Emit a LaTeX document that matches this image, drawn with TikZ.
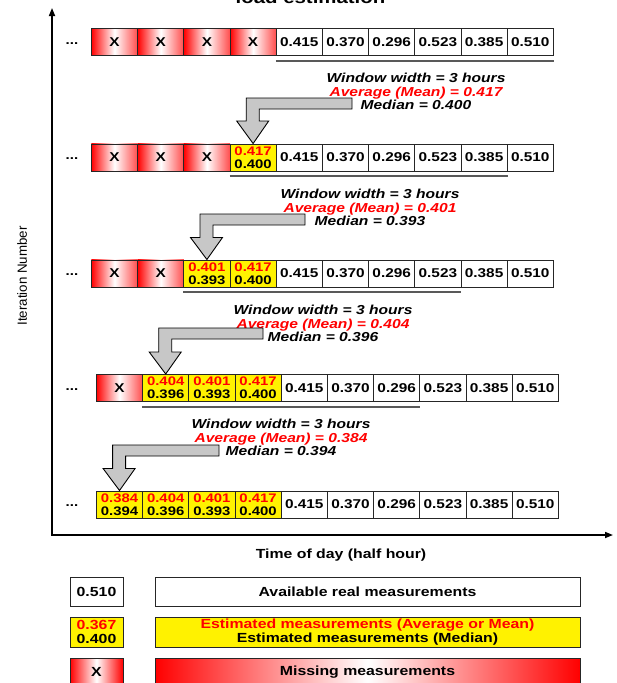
\documentclass[tikz,border=0pt]{standalone}
\usepackage{fontspec}
\setmainfont{Liberation Sans}[FakeStretch=1.2]
\newfontfamily\plainfont{Liberation Sans}
\usetikzlibrary{arrows.meta}

\tikzset{
  cell/.style={draw=black!85, line width=0.8pt, minimum width=46.2pt, minimum height=27pt,
    inner sep=0pt, anchor=north west, align=center,
    font=\fontsize{12.8}{13}\selectfont\bfseries},
  realcell/.style={fill=white},
  estcell/.style={fill=yellow, font=\fontsize{12.4}{13}\selectfont\bfseries},
  misscell/.style={left color=red, right color=red!70, middle color=white},
  dotsnode/.style={anchor=base, font=\fontsize{12.5}{13}\selectfont\bfseries, inner sep=0pt},
  wtext/.style={align=center, inner sep=0pt, font=\fontsize{13}{13.5}\selectfont\bfseries\itshape},
  barrow/.style={draw=black, line width=0.9pt, fill=black!22, line join=miter},
  brk/.style={draw=black!65, line width=2pt},
  axis/.style={draw=black, line width=1.6pt, -{Triangle[width=6pt,length=8pt]}},
  legbox/.style={draw=black!85, line width=0.8pt, inner sep=0pt, align=center,
    font=\fontsize{13.2}{13.8}\selectfont\bfseries},
}

\begin{document}
\begin{tikzpicture}[x=1pt,y=-1pt]
\useasboundingbox (0,0) rectangle (617,683);

% title (cut off at the top, as in the reference)
\node[anchor=base, inner sep=0pt, font=\fontsize{17}{17}\selectfont\bfseries] (title) at (310.5,3) {load estimation};

% axes
\coordinate (origin) at (52,535);
\coordinate (ytop) at (52,8);
\coordinate (xend) at (613,535);
\draw[axis] (origin) -- (ytop);
\draw[axis] ([xshift=-0.8pt]origin) -- (xend);
\node[rotate=90, inner sep=0pt, font=\plainfont\fontsize{13.3}{13}\selectfont] (ylab) at (22,276) {Iteration Number};
\node[inner sep=0pt, font=\fontsize{13.2}{13}\selectfont\bfseries] (xlab) at (341,555) {Time of day (half hour)};

% rows of cells
\foreach \r/\y/\x/\nm in {1/28/91/4, 2/143.5/91/3, 3/259.5/91/2, 4/374/96/1, 5/490.5/96/0}{
  \node[dotsnode] (dots\r) at (72,\y+16) {...};
  \foreach \c/\m/\md/\v in {1/0.384/0.394/x, 2/0.404/0.396/x, 3/0.401/0.393/x, 4/0.417/0.400/x,
      5/-/-/0.415, 6/-/-/0.370, 7/-/-/0.296, 8/-/-/0.523, 9/-/-/0.385, 10/-/-/0.510}{
    \pgfmathsetmacro\cx{\x+(\c-1)*46.2}
    \ifnum\c>\nm
      \ifnum\c>4
        \node[cell, realcell] (r\r-\c) at (\cx,\y) {\v};
      \else
        \node[cell, estcell] (r\r-\c) at (\cx,\y) {\textcolor{red}{\m}\\\md};
      \fi
    \else
      \node[cell, misscell] (r\r-\c) at (\cx,\y) {X};
    \fi
  }
}

% window brackets
\draw[brk] ([yshift=-5pt]r1-5.south west) -- ([yshift=-5pt]r1-10.south east);
\draw[brk] ([yshift=-5pt]r2-4.south west) -- ([yshift=-5pt]r2-9.south east);
\draw[brk] ([yshift=-5pt]r3-3.south west) -- ([yshift=-5pt]r3-8.south east);
\draw[brk] ([yshift=-5pt]r4-2.south west) -- ([yshift=-5pt]r4-7.south east);

% window texts
\node[wtext] (t1) at (416,91.5) {Window width = 3 hours\\\textcolor{red}{Average (Mean) = 0.417}\\Median = 0.400};
\node[wtext] (t2) at (370,207.5) {Window width = 3 hours\\\textcolor{red}{Average (Mean) = 0.401}\\Median = 0.393};
\node[wtext] (t3) at (323,323.5) {Window width = 3 hours\\\textcolor{red}{Average (Mean) = 0.404}\\Median = 0.396};
\node[wtext] (t4) at (281,437.5) {Window width = 3 hours\\\textcolor{red}{Average (Mean) = 0.384}\\Median = 0.394};

% block arrows
\draw[barrow] (352,98) -- (246.2,98) -- (246.2,121) -- (236.7,121) -- (r2-4.north)
  -- (268.7,121) -- (259.2,121) -- (259.2,109) -- (352,109) -- cycle;
\draw[barrow] (305,214) -- (200,214) -- (200,237.5) -- (190.5,237.5) -- (r3-3.north)
  -- (222.5,237.5) -- (213,237.5) -- (213,225) -- (305,225) -- cycle;
\draw[barrow] (263,328) -- (158.7,328) -- (158.7,352) -- (149.2,352) -- (r4-2.north)
  -- (181.2,352) -- (171.7,352) -- (171.7,339) -- (263,339) -- cycle;
\draw[barrow] (219,445) -- (112.6,445) -- (112.6,468.5) -- (103.1,468.5) -- (r5-1.north)
  -- (135.1,468.5) -- (125.6,468.5) -- (125.6,456) -- (219,456) -- cycle;

% legend
\node[legbox, fill=white, minimum width=53pt, minimum height=29pt] (l1s) at (96.5,591.5) {0.510};
\node[legbox, fill=white, minimum width=425pt, minimum height=29pt] (l1b) at (367.5,591.5) {Available real measurements};
\node[legbox, fill=yellow, minimum width=53pt, minimum height=30pt] (l2s) at (96.5,632) {\textcolor{red}{0.367}\\0.400};
\node[legbox, fill=yellow, minimum width=425pt, minimum height=30pt] (l2b) at (367.5,632) {\textcolor{red}{Estimated measurements (Average or Mean)}\\Estimated measurements (Median)};
\node[legbox, left color=red, right color=red, middle color=white, minimum width=53pt, minimum height=28pt] (l3s) at (96.5,672) {X};
\node[legbox, left color=red, right color=red, middle color=white, minimum width=425pt, minimum height=28pt] (l3b) at (367.5,672) {Missing measurements};
\end{tikzpicture}
\end{document}
